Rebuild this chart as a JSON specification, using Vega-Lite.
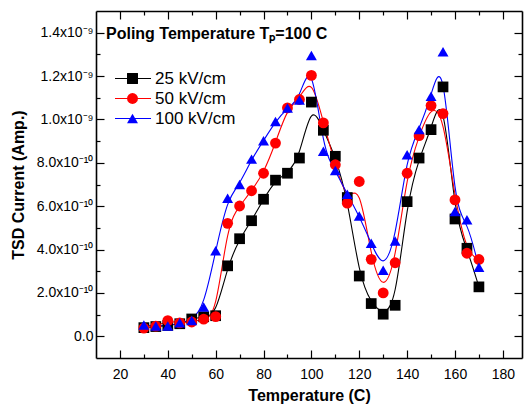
{
  "$schema": "https://vega.github.io/schema/vega-lite/v6.json",
  "width": 426,
  "height": 347,
  "autosize": {"type": "none"},
  "padding": {"left": 96, "top": 11, "right": 3, "bottom": 48},
  "background": "#ffffff",
  "title": {"text": "Poling Temperature Tₚ=100 C", "anchor": "start", "frame": "group", "orient": "top", "offset": 0, "dx": 10, "dy": 45, "baseline": "alphabetic", "fontSize": 16, "fontWeight": "bold", "font": "Liberation Sans", "color": "#000000"},
  "data": {"values": [
    {"T":30,"s":"25 kV/cm","I":0.40e-10},{"T":35,"s":"25 kV/cm","I":0.45e-10},{"T":40,"s":"25 kV/cm","I":0.50e-10},{"T":45,"s":"25 kV/cm","I":0.58e-10},{"T":50,"s":"25 kV/cm","I":0.80e-10},{"T":55,"s":"25 kV/cm","I":0.90e-10},{"T":60,"s":"25 kV/cm","I":0.95e-10},{"T":65,"s":"25 kV/cm","I":3.25e-10},{"T":70,"s":"25 kV/cm","I":4.50e-10},{"T":75,"s":"25 kV/cm","I":5.33e-10},{"T":80,"s":"25 kV/cm","I":6.32e-10},{"T":85,"s":"25 kV/cm","I":7.20e-10},{"T":90,"s":"25 kV/cm","I":7.52e-10},{"T":95,"s":"25 kV/cm","I":8.22e-10},{"T":100,"s":"25 kV/cm","I":10.80e-10},{"T":105,"s":"25 kV/cm","I":9.50e-10},{"T":110,"s":"25 kV/cm","I":8.30e-10},{"T":115,"s":"25 kV/cm","I":6.40e-10},{"T":120,"s":"25 kV/cm","I":2.78e-10},{"T":125,"s":"25 kV/cm","I":1.51e-10},{"T":130,"s":"25 kV/cm","I":1.02e-10},{"T":135,"s":"25 kV/cm","I":1.43e-10},{"T":140,"s":"25 kV/cm","I":6.21e-10},{"T":145,"s":"25 kV/cm","I":8.22e-10},{"T":150,"s":"25 kV/cm","I":9.53e-10},{"T":155,"s":"25 kV/cm","I":11.50e-10},{"T":160,"s":"25 kV/cm","I":5.41e-10},{"T":165,"s":"25 kV/cm","I":4.06e-10},{"T":170,"s":"25 kV/cm","I":2.28e-10},
    {"T":30,"s":"50 kV/cm","I":0.38e-10},{"T":35,"s":"50 kV/cm","I":0.47e-10},{"T":40,"s":"50 kV/cm","I":0.72e-10},{"T":45,"s":"50 kV/cm","I":0.62e-10},{"T":50,"s":"50 kV/cm","I":0.66e-10},{"T":55,"s":"50 kV/cm","I":0.79e-10},{"T":60,"s":"50 kV/cm","I":0.91e-10},{"T":65,"s":"50 kV/cm","I":5.21e-10},{"T":70,"s":"50 kV/cm","I":6.01e-10},{"T":75,"s":"50 kV/cm","I":6.71e-10},{"T":80,"s":"50 kV/cm","I":7.52e-10},{"T":85,"s":"50 kV/cm","I":8.91e-10},{"T":90,"s":"50 kV/cm","I":10.53e-10},{"T":95,"s":"50 kV/cm","I":10.92e-10},{"T":100,"s":"50 kV/cm","I":12.03e-10},{"T":105,"s":"50 kV/cm","I":9.84e-10},{"T":110,"s":"50 kV/cm","I":7.91e-10},{"T":115,"s":"50 kV/cm","I":6.14e-10},{"T":120,"s":"50 kV/cm","I":7.14e-10},{"T":125,"s":"50 kV/cm","I":3.55e-10},{"T":130,"s":"50 kV/cm","I":2.00e-10},{"T":135,"s":"50 kV/cm","I":3.39e-10},{"T":140,"s":"50 kV/cm","I":7.52e-10},{"T":145,"s":"50 kV/cm","I":9.25e-10},{"T":150,"s":"50 kV/cm","I":10.64e-10},{"T":155,"s":"50 kV/cm","I":10.27e-10},{"T":160,"s":"50 kV/cm","I":6.29e-10},{"T":165,"s":"50 kV/cm","I":3.83e-10},{"T":170,"s":"50 kV/cm","I":3.54e-10},
    {"T":30,"s":"100 kV/cm","I":0.52e-10},{"T":35,"s":"100 kV/cm","I":0.48e-10},{"T":40,"s":"100 kV/cm","I":0.48e-10},{"T":45,"s":"100 kV/cm","I":0.62e-10},{"T":50,"s":"100 kV/cm","I":0.73e-10},{"T":55,"s":"100 kV/cm","I":1.35e-10},{"T":60,"s":"100 kV/cm","I":3.95e-10},{"T":65,"s":"100 kV/cm","I":6.37e-10},{"T":70,"s":"100 kV/cm","I":7.00e-10},{"T":75,"s":"100 kV/cm","I":8.17e-10},{"T":80,"s":"100 kV/cm","I":9.02e-10},{"T":85,"s":"100 kV/cm","I":9.91e-10},{"T":90,"s":"100 kV/cm","I":10.53e-10},{"T":95,"s":"100 kV/cm","I":10.90e-10},{"T":100,"s":"100 kV/cm","I":12.95e-10},{"T":105,"s":"100 kV/cm","I":8.53e-10},{"T":110,"s":"100 kV/cm","I":7.65e-10},{"T":115,"s":"100 kV/cm","I":6.55e-10},{"T":120,"s":"100 kV/cm","I":5.55e-10},{"T":125,"s":"100 kV/cm","I":4.29e-10},{"T":130,"s":"100 kV/cm","I":3.05e-10},{"T":135,"s":"100 kV/cm","I":4.39e-10},{"T":140,"s":"100 kV/cm","I":8.37e-10},{"T":145,"s":"100 kV/cm","I":9.53e-10},{"T":150,"s":"100 kV/cm","I":11.07e-10},{"T":155,"s":"100 kV/cm","I":13.12e-10},{"T":160,"s":"100 kV/cm","I":5.75e-10},{"T":165,"s":"100 kV/cm","I":5.37e-10},{"T":170,"s":"100 kV/cm","I":3.18e-10}
  ]},
  "layer": [
    {
      "mark": {"type": "line", "interpolate": "basis", "strokeWidth": 1.1},
      "encoding": {
        "x": {"field": "T", "type": "quantitative", "scale": {"domain": [10, 188], "nice": false, "zero": false},
          "axis": {"orient": "bottom", "title": "Temperature (C)", "values": [20,30,40,50,60,70,80,90,100,110,120,130,140,150,160,170,180],
            "labelExpr": "datum.value % 20 === 0 ? datum.label : ''",
            "tickSize": {"condition": {"test": "datum.value % 20 === 0", "value": -8}, "value": -4},
            "labelPadding": 17, "titlePadding": 2, "labelOverlap": false, "labelFlush": false, "labelBound": false}},
        "y": {"field": "I", "type": "quantitative", "scale": {"domain": [-1e-10, 1.5e-9], "nice": false, "zero": false},
          "axis": {"orient": "left", "title": "TSD Current (Amp.)", "values": [0,1e-10,2e-10,3e-10,4e-10,5e-10,6e-10,7e-10,8e-10,9e-10,1e-9,1.1e-9,1.2e-9,1.3e-9,1.4e-9],
            "labelExpr": "round(datum.value*1e10) % 2 !== 0 ? '' : round(datum.value*1e10) === 0 ? '0.0' : round(datum.value*1e10) < 10 ? format(datum.value*1e10, '.1f') + 'x10⁻¹⁰' : format(datum.value*1e9, '.1f') + 'x10⁻⁹'",
            "tickSize": {"condition": {"test": "round(datum.value*1e10) % 2 === 0", "value": -8}, "value": -4},
            "labelPadding": 11, "titlePadding": 10, "labelOverlap": false, "labelFlush": false, "labelBound": false}},
        "color": {"field": "s", "type": "nominal",
          "scale": {"domain": ["25 kV/cm", "50 kV/cm", "100 kV/cm"], "range": ["#000000", "#ff0000", "#0000ff"]},
          "legend": {"orient": "none", "legendX": 28.5, "legendY": 59, "title": null, "padding": 0, "labelFontSize": 17, "labelFont": "Liberation Sans", "labelColor": "#000000", "labelOpacity": 0, "symbolSize": 100, "labelOffset": 12, "rowPadding": 2, "symbolStrokeWidth": 1.1, "symbolType": "M-3.6,0L3.6,0"}}
      }
    },
    {
      "mark": {"type": "point", "filled": true, "opacity": 1},
      "encoding": {
        "x": {"field": "T", "type": "quantitative",
          "axis": {"orient": "top", "title": null, "labels": false, "values": [20,30,40,50,60,70,80,90,100,110,120,130,140,150,160,170,180],
            "tickSize": {"condition": {"test": "datum.value % 20 === 0", "value": -8}, "value": -4}}},
        "y": {"field": "I", "type": "quantitative",
          "axis": {"orient": "right", "title": null, "labels": false, "values": [0,1e-10,2e-10,3e-10,4e-10,5e-10,6e-10,7e-10,8e-10,9e-10,1e-9,1.1e-9,1.2e-9,1.3e-9,1.4e-9],
            "tickSize": {"condition": {"test": "round(datum.value*1e10) % 2 === 0", "value": -8}, "value": -4}}},
        "color": {"field": "s", "type": "nominal",
          "legend": {"orient": "none", "legendX": 28, "legendY": 59, "title": null, "padding": 0, "labelFontSize": 17, "labelFont": "Liberation Sans", "labelColor": "#000000", "symbolSize": 120, "labelOffset": 14, "rowPadding": 2}},
        "shape": {"field": "s", "type": "nominal",
          "scale": {"domain": ["25 kV/cm", "50 kV/cm", "100 kV/cm"], "range": ["square", "circle", "triangle-up"]},
          "legend": {"orient": "none", "legendX": 28, "legendY": 59, "title": null, "padding": 0, "labelFontSize": 17, "labelFont": "Liberation Sans", "labelColor": "#000000", "symbolSize": 120, "labelOffset": 14, "rowPadding": 2}},
        "size": {"field": "s", "type": "ordinal", "legend": null,
          "scale": {"domain": ["25 kV/cm", "50 kV/cm", "100 kV/cm"], "range": [115, 120, 165]}}
      }
    }
  ],
  "resolve": {"axis": {"x": "independent", "y": "independent"}, "legend": {"color": "independent", "shape": "independent"}},
  "config": {
    "view": {"stroke": null},
    "axis": {"grid": false, "domainColor": "#000000", "domainWidth": 1.6, "tickColor": "#000000", "tickWidth": 1.2,
      "labelFont": "Liberation Sans", "labelFontSize": 14, "labelColor": "#000000",
      "titleFont": "Liberation Sans", "titleFontSize": 16, "titleFontWeight": "bold", "titleColor": "#000000"}
  }
}
